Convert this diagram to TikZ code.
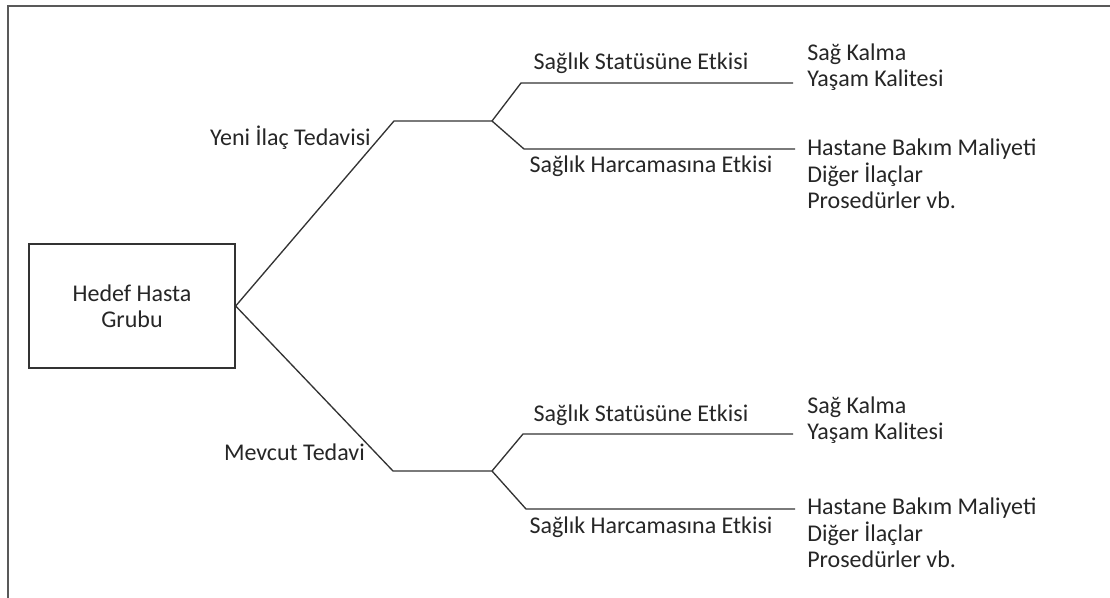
\documentclass[tikz,border=0pt]{standalone}
\usepackage{fontspec}
\setmainfont{Carlito}
\begin{document}
\begin{tikzpicture}[x=0.75pt, y=-0.75pt, font=\fontsize{18}{19.8}\selectfont, text=black!85]
    \tikzset{branch/.style={draw=black!80, line width=1pt}, lbl/.style={inner sep=0pt}}
    \useasboundingbox (0,0) rectangle (1110,598);
    \draw[black!65, line width=1.5pt] (8,598) -- (8,6) -- (1110,6);

    \node[draw=black!80, line width=1pt, minimum width=154.5pt, minimum height=93pt, align=center] (hedef) at (132,306) {Hedef Hasta\\Grubu};

    % junctions
    \coordinate (yeni) at (394,121);
    \coordinate (yeniJ) at (492,121);
    \coordinate (ySt) at (521,83);
    \coordinate (ySte) at (793,83);
    \coordinate (yHa) at (524,149);
    \coordinate (yHae) at (795,149);
    \coordinate (mev) at (393,471);
    \coordinate (mevJ) at (492,471);
    \coordinate (mSt) at (523,434);
    \coordinate (mSte) at (793,434);
    \coordinate (mHa) at (526,509);
    \coordinate (mHae) at (795,509);

    \draw[branch] (hedef.east) -- (yeni) -- (yeniJ) -- (ySt) -- (ySte);
    \draw[branch] (yeniJ) -- (yHa) -- (yHae);
    \draw[branch] (hedef.east) -- (mev) -- (mevJ) -- (mSt) -- (mSte);
    \draw[branch] (mevJ) -- (mHa) -- (mHae);

    \node[lbl, anchor=east] (yeniL) at (371,138) {Yeni İlaç Tedavisi};
    \node[lbl, anchor=east] (mevL) at (365,452) {Mevcut Tedavi};
    \node[lbl] (yStL) at (641,63) {Sağlık Statüsüne Etkisi};
    \node[lbl] (yHaL) at (651,166) {Sağlık Harcamasına Etkisi};
    \node[lbl] (mStL) at (641,415) {Sağlık Statüsüne Etkisi};
    \node[lbl] (mHaL) at (651,527) {Sağlık Harcamasına Etkisi};

    \node[lbl, anchor=west, align=left] (ySag) at (807,67) {Sağ Kalma\\Yaşam Kalitesi};
    \node[lbl, anchor=west, align=left] (yMal) at (807,174) {Hastane Bakım Maliyeti\\Diğer İlaçlar\\Prosedürler vb.};
    \node[lbl, anchor=west, align=left] (mSag) at (807,420) {Sağ Kalma\\Yaşam Kalitesi};
    \node[lbl, anchor=west, align=left] (mMal) at (807,533) {Hastane Bakım Maliyeti\\Diğer İlaçlar\\Prosedürler vb.};

\end{tikzpicture}
\end{document}
